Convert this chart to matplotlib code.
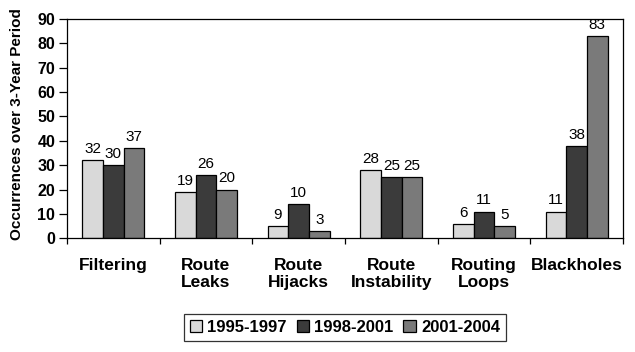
"""Grouped bar chart of routing incidents per 3-year period."""

import matplotlib

matplotlib.use("Agg")
import matplotlib.pyplot as plt
import numpy as np

categories = ["Filtering", "Route\nLeaks", "Route\nHijacks", "Route\nInstability",
              "Routing\nLoops", "Blackholes"]
periods = ["1995-1997", "1998-2001", "2001-2004"]

# bar heights as drawn in the original
p1 = [32, 19, 5, 28, 6, 11]
p2 = [30, 26, 14, 25, 11, 38]
p3 = [37, 20, 3, 25, 5, 83]

# value labels printed above the bars (hijacks labels differ from heights)
p1_labels = ["32", "19", "9", "28", "6", "11"]
p2_labels = ["30", "26", "10", "25", "11", "38"]
p3_labels = ["37", "20", "3", "25", "5", "83"]

colors = ["#d9d9d9", "#3b3b3b", "#7a7a7a"]

plt.rcParams["font.family"] = ["Liberation Sans", "DejaVu Sans"]

fig = plt.figure(figsize=(6.35, 3.52), dpi=100)
ax = fig.add_axes([0.1055, 0.323, 0.8755, 0.623])

x = np.arange(len(categories))
width = 0.223
series = [(p1, p1_labels), (p2, p2_labels), (p3, p3_labels)]

for i, (vals, labels) in enumerate(series):
    pos = x + (i - 1) * width
    bars = ax.bar(pos, vals, width, color=colors[i], edgecolor="black",
                  linewidth=0.9, label=periods[i], zorder=2)
    for b, lab in zip(bars, labels):
        ax.annotate(lab, (b.get_x() + b.get_width() / 2, b.get_height()),
                    xytext=(0, 3), textcoords="offset points",
                    ha="center", va="bottom", fontsize=11)

ax.set_xlim(-0.5, len(categories) - 0.5)
ax.set_ylim(0, 90)
ax.set_yticks(range(0, 91, 10))
ax.tick_params(axis="y", length=6, width=0.9, pad=2.5, labelsize=11.5)
for lbl in ax.get_yticklabels():
    lbl.set_fontweight("bold")

ax.set_xticks(x)
ax.set_xticklabels(categories, fontsize=12.5, fontweight="bold")
ax.tick_params(axis="x", which="major", length=0, pad=14)
ax.set_xticks(np.arange(-0.5, len(categories), 1.0), minor=True)
ax.tick_params(axis="x", which="minor", length=4, width=0.9)

for sp in ax.spines.values():
    sp.set_linewidth(0.9)

ax.set_ylabel("Occurrences over 3-Year Period", fontsize=11, fontweight="bold")
ax.yaxis.set_label_coords(-0.078, 0.52)

leg = fig.legend(loc="center", bbox_to_anchor=(0.543, 0.070), ncol=3,
                 frameon=True, fancybox=False, edgecolor="black",
                 prop={"size": 12, "weight": "bold"},
                 handlelength=0.75, handleheight=0.75, handletextpad=0.3,
                 columnspacing=0.6, borderpad=0.35, borderaxespad=0)
leg.get_frame().set_linewidth(0.9)

fig.savefig("out.png", dpi=100)
